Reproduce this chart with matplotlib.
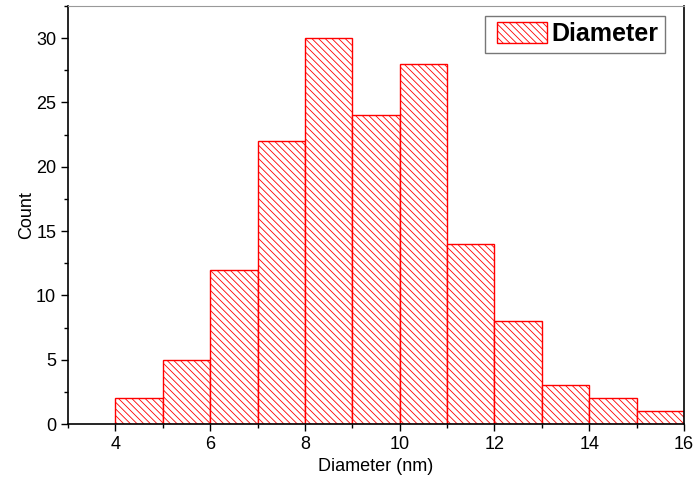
import numpy as np
import matplotlib
matplotlib.use("Agg")
import matplotlib.pyplot as plt
from matplotlib.ticker import MultipleLocator
from matplotlib.legend_handler import HandlerPatch
from matplotlib.patches import Rectangle

# histogram bins (nm) and counts
bin_left = [4, 5, 6, 7, 8, 9, 10, 11, 12, 13, 14, 15]
counts = [2, 5, 12, 22, 30, 24, 28, 14, 8, 3, 2, 1]
bin_width = 1

plt.rcParams['font.family'] = ['Liberation Sans', 'DejaVu Sans']
plt.rcParams['hatch.color'] = 'red'
plt.rcParams['hatch.linewidth'] = 0.6

fig = plt.figure(figsize=(6.96, 4.90), dpi=100)
ax = fig.add_axes([68/696, 66/490, 616/696, 418/490])

bars = ax.bar(bin_left, counts, width=bin_width, align='edge', facecolor='white',
              edgecolor='red', linewidth=1.0, hatch='\\' * 5)

ax.set_xlim(3, 16)
ax.set_ylim(0, 32.5)
ax.xaxis.set_major_locator(MultipleLocator(2))
ax.xaxis.set_minor_locator(MultipleLocator(1))
ax.yaxis.set_major_locator(MultipleLocator(5))
ax.yaxis.set_minor_locator(MultipleLocator(2.5))
ax.tick_params(which='both', direction='out', top=False, right=False,
               labelsize=13, width=1)
ax.tick_params(which='major', length=5)
ax.tick_params(which='minor', length=3)

ax.spines['top'].set_color('#999999')
ax.spines['top'].set_linewidth(0.8)
for s in ['left', 'bottom', 'right']:
    ax.spines[s].set_linewidth(1.2)

ax.set_xlabel('Diameter (nm)', fontsize=13)
ax.set_ylabel('Count', fontsize=13, labelpad=1)

# pad the hatch swatch inside the legend like the original
leg = ax.legend([bars.patches[0]], ['Diameter'],
                loc='upper right', bbox_to_anchor=(0.969, 0.976),
                prop={'weight': 'bold', 'size': 18}, fancybox=False,
                edgecolor='#777777', framealpha=1, handlelength=2.2,
                handleheight=0.92, handletextpad=0.2, borderpad=0.25,
                borderaxespad=0,
                handler_map={Rectangle: HandlerPatch(xpad=0.2)})
leg.get_frame().set_linewidth(1.0)

fig.savefig('out.png', dpi=100)
